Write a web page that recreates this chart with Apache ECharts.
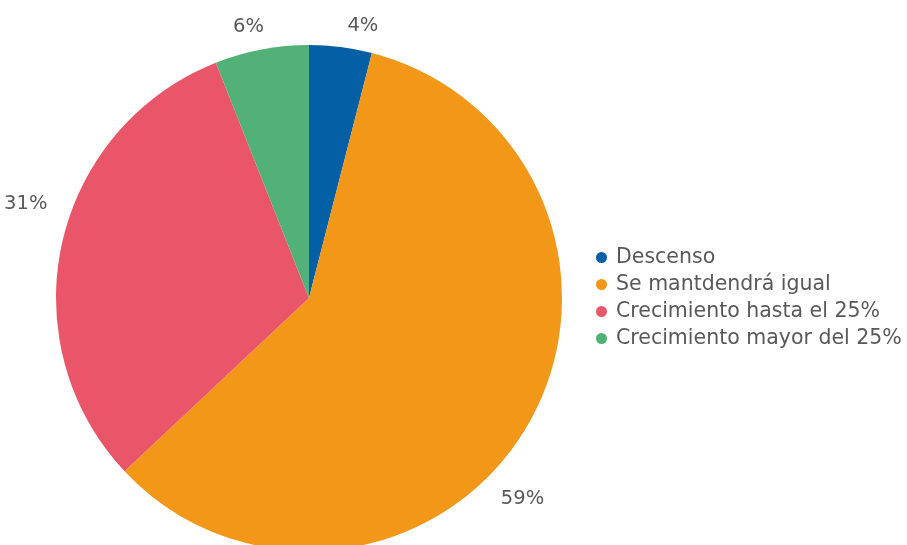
<!DOCTYPE html>
<html>
<head>
<meta charset="utf-8">
<script src="https://cdn.jsdelivr.net/npm/echarts@6/dist/echarts.min.js"></script>
<style>
  html, body { margin: 0; padding: 0; background: #ffffff; }
  #chart { width: 907px; height: 545px; }
</style>
</head>
<body>
<div id="chart"></div>
<script>
// Expected change in activity, share of respondents (%)
const categories = [
  'Descenso',
  'Se mantdendrá igual',
  'Crecimiento hasta el 25%',
  'Crecimiento mayor del 25%'
];
const values = [4, 59, 31, 6];
const colors = ['#055fa5', '#f39719', '#e9566a', '#52b176'];

// Nudges for the percentage labels so they sit clear of the slices
const labelShift = [[0, -7], [-43, 65], [4, -36], [10, -9]];

const FONT = '"DejaVu Sans", "Open Sans", sans-serif';

const chart = echarts.init(document.getElementById('chart'));

chart.setOption({
  animation: false,
  color: colors,
  textStyle: { fontFamily: FONT },
  legend: {
    orient: 'vertical',
    left: 591,
    top: 242,
    icon: 'circle',
    itemWidth: 11,
    itemHeight: 11,
    itemGap: 6,
    textStyle: {
      color: '#595959',
      fontSize: 20.5,
      fontFamily: FONT,
      padding: [0, 0, 0, 4]
    },
    data: categories
  },
  series: [{
    type: 'pie',
    center: [309, 298],
    radius: [0, 253],
    startAngle: 90,
    clockwise: true,
    avoidLabelOverlap: false,
    label: {
      show: true,
      position: 'outside',
      formatter: '{c}%',
      color: '#595959',
      fontSize: 19.5,
      fontFamily: FONT
    },
    labelLine: { show: false, length: 14, length2: 0 },
    labelLayout: function (params) {
      const s = labelShift[params.dataIndex];
      return { dx: s[0], dy: s[1] };
    },
    itemStyle: { borderWidth: 0 },
    emphasis: { disabled: true },
    data: categories.map((name, i) => ({ name: name, value: values[i] }))
  }]
});
</script>
</body>
</html>
